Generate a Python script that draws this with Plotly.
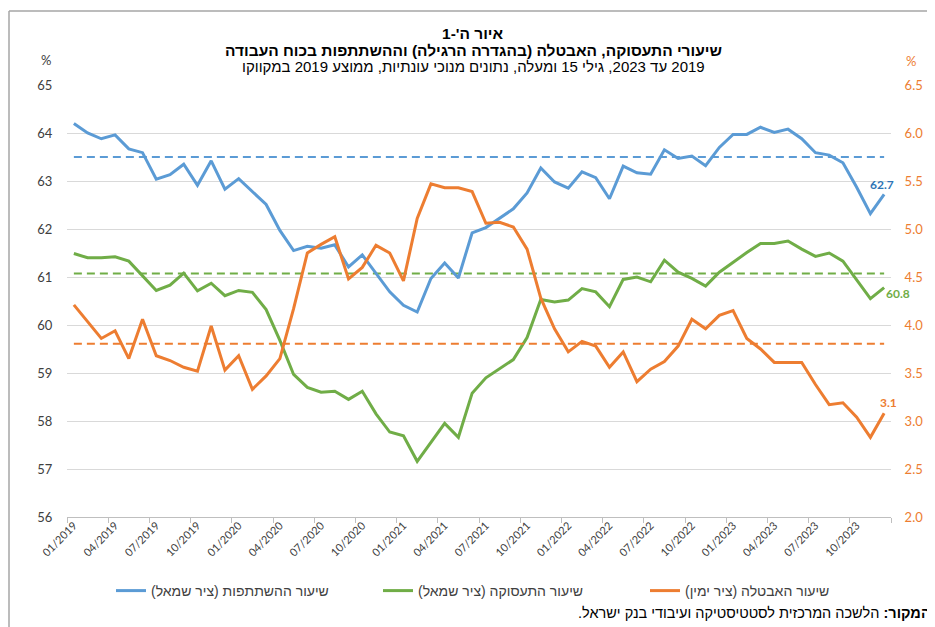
import plotly.graph_objects as go

# Monthly data, 01/2019 - 12/2023 (seasonally adjusted, ages 15+)
months = [f"{m:02d}/{y}" for y in range(2019, 2024) for m in range(1, 13)]

participation = [64.20, 64.00, 63.88, 63.96, 63.67, 63.59, 63.04, 63.13, 63.35, 62.91, 63.42, 62.83,
                 63.05, 62.79, 62.51, 61.97, 61.55, 61.64, 61.60, 61.67, 61.21, 61.46, 61.07, 60.69,
                 60.41, 60.27, 60.97, 61.29, 60.98, 61.92, 62.03, 62.22, 62.42, 62.75, 63.27, 62.98,
                 62.85, 63.19, 63.07, 62.63, 63.31, 63.17, 63.14, 63.65, 63.47, 63.52, 63.32, 63.70,
                 63.97, 63.97, 64.12, 64.01, 64.08, 63.88, 63.59, 63.54, 63.38, 62.87, 62.32, 62.72]

employment = [61.49, 61.40, 61.40, 61.42, 61.33, 61.03, 60.72, 60.83, 61.08, 60.71, 60.87, 60.61,
              60.72, 60.68, 60.32, 59.68, 58.97, 58.70, 58.60, 58.62, 58.45, 58.62, 58.15, 57.77,
              57.69, 57.16, 57.56, 57.95, 57.66, 58.58, 58.90, 59.09, 59.28, 59.74, 60.53, 60.48,
              60.52, 60.76, 60.69, 60.38, 60.95, 61.00, 60.90, 61.35, 61.10, 60.97, 60.81, 61.10,
              61.31, 61.51, 61.70, 61.70, 61.75, 61.58, 61.43, 61.50, 61.33, 60.95, 60.55, 60.78]

unemployment = [4.21, 4.03, 3.86, 3.94, 3.65, 4.06, 3.68, 3.63, 3.56, 3.52, 3.99, 3.53,
                3.68, 3.33, 3.47, 3.65, 4.17, 4.75, 4.84, 4.92, 4.48, 4.60, 4.83, 4.75,
                4.46, 5.11, 5.47, 5.43, 5.43, 5.39, 5.06, 5.07, 5.02, 4.79, 4.28, 3.96,
                3.72, 3.83, 3.78, 3.56, 3.72, 3.41, 3.54, 3.62, 3.78, 4.06, 3.96, 4.10,
                4.15, 3.86, 3.75, 3.61, 3.61, 3.61, 3.38, 3.17, 3.19, 3.04, 2.83, 3.08]

series_names = ["שיעור ההשתתפות (ציר שמאל)", "שיעור התעסוקה (ציר שמאל)", "שיעור האבטלה (ציר ימין)"]

COLORS = {"blue": "#5B9BD5", "green": "#70AD47", "orange": "#ED7D31",
          "blue_label": "#2E75B6", "text": "#404040", "grid": "#D9D9D9"}

# the page body has an 8px margin, so the figure starts at (8, 8) of the window
OFF = 8
W, H = 935 - OFF, 627 - OFF
PLOT_L, PLOT_R, PLOT_T, PLOT_B = 67, 891, 85, 517   # plot area in window pixels
HEB_FONT = "'Liberation Sans', Arial, sans-serif"
NUM_FONT = "Lato, 'Liberation Sans', sans-serif"


def rtl(s):
    # force right-to-left ordering inside svg text
    return "\u200f" + s + "\u200f"


def px_x(p):
    return (p - PLOT_L) / (PLOT_R - PLOT_L)


def px_y(p):
    return (PLOT_B - p) / (PLOT_B - PLOT_T)


idx = list(range(len(months)))
avg = lambda v: sum(v[:12]) / 12  # 2019 average

fig = go.Figure()

# dashed 2019 averages
for vals, col, ax in [(participation, "blue", "y"), (employment, "green", "y"), (unemployment, "orange", "y2")]:
    fig.add_trace(go.Scatter(x=idx, y=[avg(vals)] * len(idx), mode="lines", yaxis=ax, showlegend=False,
                             hoverinfo="skip", line=dict(color=COLORS[col], width=2, dash="8px,5px")))

fig.add_trace(go.Scatter(x=idx, y=participation, mode="lines", name=rtl(series_names[0]),
                         line=dict(color=COLORS["blue"], width=3)))
fig.add_trace(go.Scatter(x=idx, y=employment, mode="lines", name=rtl(series_names[1]),
                         line=dict(color=COLORS["green"], width=3)))
fig.add_trace(go.Scatter(x=idx, y=unemployment, mode="lines", name=rtl(series_names[2]), yaxis="y2",
                         line=dict(color=COLORS["orange"], width=3)))

anns = []
title_lines = [
    ("<b>" + rtl("איור ה'-1") + "</b>", 34, 15.5),
    ("<b>" + rtl("שיעורי התעסוקה, האבטלה (בהגדרה הרגילה) וההשתתפות בכוח העבודה") + "</b>", 51, 15.5),
    (rtl("2019 עד 2023, גילי 15 ומעלה, נתונים מנוכי עונתיות, ממוצע 2019 במקווקו"), 67, 15),
]
for txt, ypx, size in title_lines:
    anns.append(dict(text=txt, x=px_x(473), y=px_y(ypx), xref="paper", yref="paper", showarrow=False,
                     xanchor="center", yanchor="middle", font=dict(size=size, family=HEB_FONT, color="#000000")))

# unit markers
anns.append(dict(text="%", x=px_x(46), y=px_y(60), xref="paper", yref="paper", showarrow=False,
                 xanchor="center", yanchor="middle", font=dict(size=13, family=NUM_FONT, color=COLORS["text"])))
anns.append(dict(text="%", x=px_x(911), y=px_y(61), xref="paper", yref="paper", showarrow=False,
                 xanchor="center", yanchor="middle", font=dict(size=13, family=NUM_FONT, color=COLORS["orange"])))

# end-point labels
anns.append(dict(text=f"<b>{participation[-1]:.1f}</b>", x=idx[-1], y=participation[-1], xref="x", yref="y",
                 showarrow=False, xshift=-2, yshift=10, font=dict(size=12, family=NUM_FONT, color=COLORS["blue_label"])))
anns.append(dict(text=f"<b>{employment[-1]:.1f}</b>", x=idx[-1], y=employment[-1], xref="x", yref="y",
                 showarrow=False, xshift=14, yshift=-6, font=dict(size=12, family=NUM_FONT, color=COLORS["green"])))
anns.append(dict(text=f"<b>{unemployment[-1]:.1f}</b>", x=idx[-1], y=unemployment[-1], xref="x", yref="y2",
                 showarrow=False, xshift=4, yshift=11, font=dict(size=12, family=NUM_FONT, color=COLORS["orange"])))

# source line
anns.append(dict(text=rtl("<b>המקור:</b> הלשכה המרכזית לסטטיסטיקה ועיבודי בנק ישראל."),
                 x=px_x(933), y=px_y(613), xref="paper", yref="paper",
                 showarrow=False, xanchor="right", yanchor="middle",
                 font=dict(size=14.5, family=HEB_FONT, color="#000000")))

# chart frame: only the top and left edges show in the picture
frame = dict(color="#A6A6A6", width=1.5)
shapes = [
    dict(type="line", xref="paper", yref="paper", x0=px_x(9), x1=px_x(930), y0=px_y(11), y1=px_y(11),
         line=frame, layer="below"),
    dict(type="line", xref="paper", yref="paper", x0=px_x(9), x1=px_x(9), y0=px_y(11), y1=px_y(660),
         line=frame, layer="below"),
]

fig.update_layout(
    width=W, height=H,
    margin=dict(l=PLOT_L - OFF, r=935 - PLOT_R, t=PLOT_T - OFF, b=627 - PLOT_B, autoexpand=False),
    plot_bgcolor="white", paper_bgcolor="white",
    font=dict(family=NUM_FONT, color=COLORS["text"], size=12),
    annotations=anns,
    shapes=shapes,
    legend=dict(orientation="h", x=px_x(111), y=px_y(591), xanchor="left", yanchor="middle",
                entrywidth=222, entrywidthmode="pixels", font=dict(size=14, family=HEB_FONT, color=COLORS["text"]),
                bgcolor="rgba(0,0,0,0)", traceorder="normal"),
    xaxis=dict(range=[-0.5, len(idx) - 0.5], tickmode="array", tickvals=idx[::3], ticktext=months[::3],
               tickangle=-45, ticks="", showgrid=False, zeroline=False, ticklabelstandoff=-3,
               showline=True, linecolor="#BFBFBF", linewidth=1,
               tickfont=dict(size=11, family=NUM_FONT, color=COLORS["text"]),
               minor=dict(tickmode="array", tickvals=[i - 0.5 for i in idx[::3]] + [idx[-1] + 0.5],
                          ticks="outside", ticklen=5, tickcolor="#BFBFBF", showgrid=False)),
    # transparent ticks keep the labels away from the plot area
    yaxis=dict(range=[56, 65], dtick=1, showgrid=True, gridcolor=COLORS["grid"], gridwidth=1,
               zeroline=False, showline=False, ticks="outside", ticklen=11, tickcolor="rgba(0,0,0,0)",
               tickfont=dict(size=13, family=NUM_FONT, color=COLORS["text"])),
    yaxis2=dict(range=[2.0, 6.5], dtick=0.5, tickformat=".1f", overlaying="y", side="right",
                showgrid=False, zeroline=False, showline=False, ticks="outside", ticklen=10,
                tickcolor="rgba(0,0,0,0)",
                tickfont=dict(size=13, family=NUM_FONT, color=COLORS["orange"])),
)

fig.write_html("out.html")
